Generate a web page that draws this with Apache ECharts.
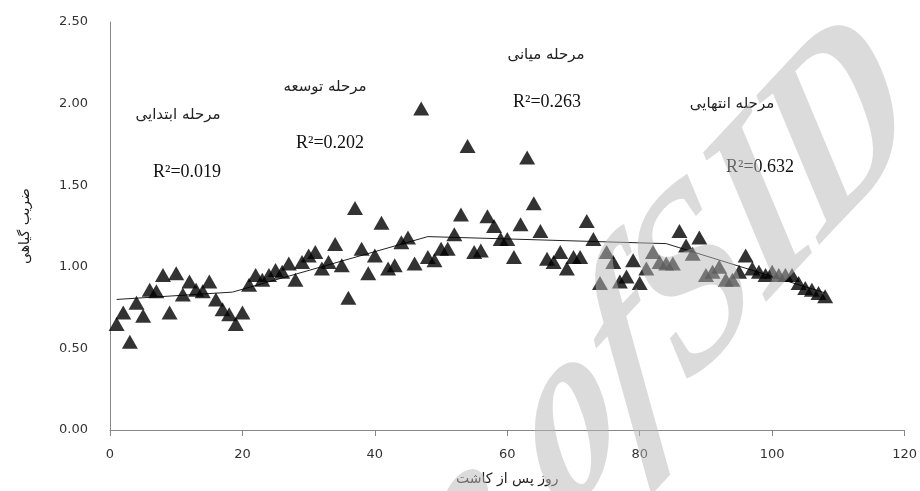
<!DOCTYPE html>
<html>
<head>
<meta charset="utf-8">
<script src="https://cdn.jsdelivr.net/npm/echarts@6/dist/echarts.min.js"></script>
<style>html,body{margin:0;padding:0;background:#fff}#c{width:920px;height:491px}</style>
</head>
<body>
<div id="c"></div>
<script>
// Days after planting (1..108) and crop coefficient values
const days = [1,2,3,4,5,6,7,8,9,10,11,12,13,14,15,16,17,18,19,20,21,22,23,24,25,26,27,28,29,30,31,32,33,34,35,36,37,38,39,40,41,42,43,44,45,46,47,48,49,50,51,52,53,54,55,56,57,58,59,60,61,62,63,64,65,66,67,68,69,70,71,72,73,74,75,76,77,78,79,80,81,82,83,84,85,86,87,88,89,90,91,92,93,94,95,96,97,98,99,100,101,102,103,104,105,106,107,108];
const kc = [0.65,0.72,0.54,0.78,0.70,0.86,0.85,0.95,0.72,0.96,0.83,0.91,0.86,0.85,0.91,0.80,0.74,0.71,0.65,0.72,
            0.89,0.95,0.92,0.95,0.98,0.97,1.02,0.92,1.03,1.07,1.09,0.99,1.03,1.14,1.01,0.81,1.36,1.11,0.96,1.07,
            1.27,0.99,1.01,1.15,1.18,1.02,1.97,1.06,1.04,1.11,1.11,1.20,1.32,1.74,1.09,1.10,1.31,1.25,1.17,1.17,
            1.06,1.26,1.67,1.39,1.22,1.05,1.03,1.09,0.99,1.06,1.06,1.28,1.17,0.90,1.09,1.03,0.91,0.94,1.04,0.90,
            0.99,1.09,1.03,1.02,1.02,1.22,1.13,1.08,1.18,0.95,0.97,1.00,0.92,0.92,0.97,1.07,0.99,0.97,0.95,0.97,
            0.95,0.95,0.95,0.90,0.87,0.86,0.84,0.82];
// Stage trend lines (start/end of each linear fit)
const trendX = [1, 18.5, 48, 84, 108];
const trendY = [0.80, 0.845, 1.185, 1.142, 0.84];
const stageNames = ['مرحله ابتدایی','مرحله توسعه','مرحله میانی','مرحله انتهایی'];
const stageR2 = ['R²=0.019','R²=0.202','R²=0.263','R²=0.632'];
const xTicks = [0,20,40,60,80,100,120];
const yTicks = [0,0.5,1,1.5,2,2.5];

const chart = echarts.init(document.getElementById('c'));
const points = days.map((d,i)=>[d,kc[i]]);
const trend = trendX.map((x,i)=>[x,trendY[i]]);

const namePos = [[178,115],[325,87],[546,55],[732,104]];
const r2Pos = [[187,172],[330,143],[547,102],[760,167]];
const graphics = [];
stageNames.forEach((t,i)=>{
  graphics.push({type:'text', x:namePos[i][0], y:namePos[i][1], z:50,
    style:{text:t, fill:'#222', font:'15px "DejaVu Sans"', textAlign:'center', textVerticalAlign:'middle'}});
  graphics.push({type:'text', x:r2Pos[i][0], y:r2Pos[i][1], z:50,
    style:{text:stageR2[i], fill:'#111', font:'18px "Liberation Serif"', textAlign:'center', textVerticalAlign:'middle'}});
});
// watermark (stretched, rotated)
const wmFill = 'rgba(184,184,184,0.5)';
graphics.push({type:'group', x:895, y:78, scaleY:1.6, z:200, children:[
  {type:'text', x:0, y:0, rotation:33.8*Math.PI/180, z:200,
   style:{text:'{i|Archive of} {n|SID}', textAlign:'right', textVerticalAlign:'middle',
    rich:{i:{font:'italic bold 172px "Liberation Serif"', fill:wmFill},
          n:{font:'bold 172px "Liberation Serif"', fill:wmFill}}}}
]});

chart.setOption({
  animation:false,
  grid:{left:110,right:15,top:22,bottom:61},
  xAxis:{type:'value', min:xTicks[0], max:xTicks[xTicks.length-1], interval:20,
    name:'روز پس از کاشت', nameLocation:'middle', nameGap:42,
    nameTextStyle:{fontFamily:'DejaVu Sans', fontSize:14, color:'#222'},
    axisLine:{lineStyle:{color:'#888'}}, axisTick:{show:true, length:6, lineStyle:{color:'#888'}},
    axisLabel:{fontFamily:'DejaVu Sans', fontSize:13, color:'#333', margin:18},
    splitLine:{show:false}},
  yAxis:{type:'value', min:yTicks[0], max:yTicks[yTicks.length-1], interval:0.5,
    name:'ضریب گیاهی', nameLocation:'middle', nameGap:78, nameRotate:90,
    nameTextStyle:{fontFamily:'DejaVu Sans', fontSize:14, color:'#222'},
    axisLine:{show:true, lineStyle:{color:'#888'}}, axisTick:{show:false},
    axisLabel:{fontFamily:'DejaVu Sans', fontSize:13, color:'#333', margin:22, formatter:v=>v.toFixed(2)},
    splitLine:{show:false}},
  series:[
    {type:'line', data:trend, symbol:'none', lineStyle:{color:'#222', width:1}, z:2},
    {type:'scatter', data:points, symbol:'triangle', symbolSize:[16,14], itemStyle:{color:'#000'}, z:3}
  ],
  graphic:graphics
});
</script>
</body>
</html>
